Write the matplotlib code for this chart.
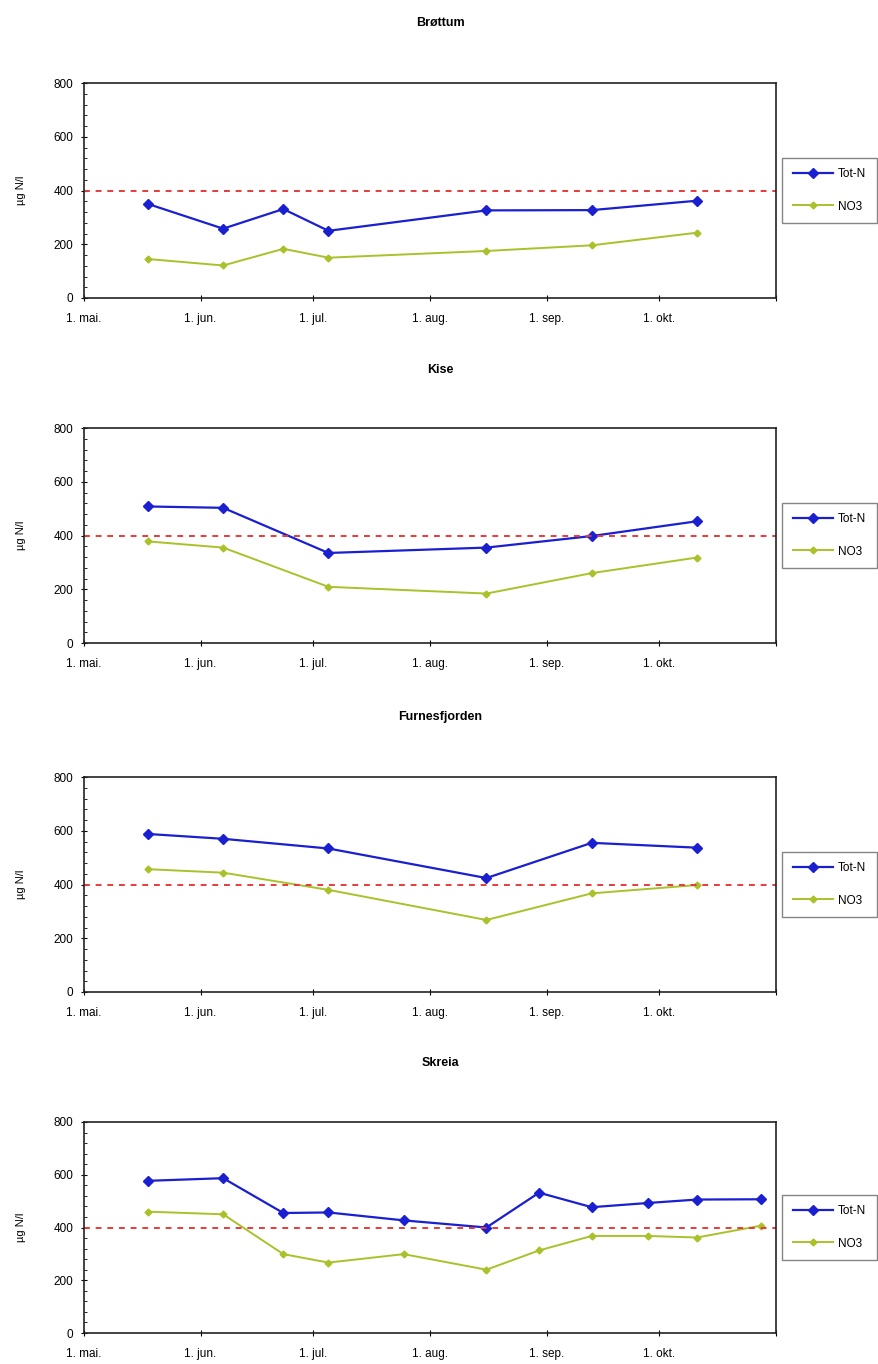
import datetime as dt
import matplotlib.pyplot as plt
from matplotlib.ticker import MultipleLocator

plt.rcParams['font.family'] = ['Liberation Sans', 'DejaVu Sans']

titles = ['Brøttum', 'Kise', 'Furnesfjorden', 'Skreia']

dates_6 = ['2000-05-18', '2000-06-07', '2000-07-05', '2000-08-16', '2000-09-13', '2000-10-11']
dates_brottum = ['2000-05-18', '2000-06-07', '2000-06-23', '2000-07-05', '2000-08-16', '2000-09-13', '2000-10-11']
dates_skreia = ['2000-05-18', '2000-06-07', '2000-06-23', '2000-07-05', '2000-07-25', '2000-08-16',
                '2000-08-30', '2000-09-13', '2000-09-28', '2000-10-11', '2000-10-28']

totn_brottum = [350, 258, 331, 250, 326, 327, 362]
no3_brottum = [145, 121, 183, 150, 175, 196, 243]

totn_kise = [508, 503, 335, 355, 398, 453]
no3_kise = [378, 355, 209, 184, 260, 318]

totn_furnes = [588, 570, 534, 424, 555, 537]
no3_furnes = [457, 444, 380, 268, 367, 398]

totn_skreia = [577, 587, 455, 457, 427, 400, 532, 477, 493, 506, 507]
no3_skreia = [460, 450, 299, 267, 299, 240, 313, 368, 368, 362, 407]

limit = 400

series = [
    (dates_brottum, totn_brottum, no3_brottum),
    (dates_6, totn_kise, no3_kise),
    (dates_6, totn_furnes, no3_furnes),
    (dates_skreia, totn_skreia, no3_skreia),
]

# pixel rows of each panel: title centre, plot top, plot bottom
rows = [(23, 83, 298), (370, 428, 643), (717, 777, 992), (1063, 1122, 1333)]
W, H = 879, 1364

fig = plt.figure(figsize=(W / 100, H / 100), dpi=100)

month_ticks = [dt.date(2000, m, 1) for m in range(5, 12)]
month_labels = ['1. mai.', '1. jun.', '1. jul.', '1. aug.', '1. sep.', '1. okt.', '']

for title, (dates, totn, no3), (ty, top, bot) in zip(titles, series, rows):
    ax = fig.add_axes([84 / W, 1 - bot / H, (776 - 84) / W, (bot - top) / H])
    x = [dt.datetime.strptime(d, '%Y-%m-%d') for d in dates]
    ax.plot(x, totn, color='#1a1fd0', marker='D', markersize=5, lw=1.6, label='Tot-N')
    ax.plot(x, no3, color='#aac12a', marker='D', markersize=3.5, lw=1.4, label='NO3')
    ax.axhline(limit, color='#e83a3a', ls=(0, (3, 3)), lw=1.4)

    ax.set_xlim(dt.date(2000, 5, 1), dt.date(2000, 11, 1))
    ax.set_ylim(0, 800)
    ax.set_xticks(month_ticks)
    ax.set_xticklabels(month_labels)
    ax.yaxis.set_major_locator(MultipleLocator(200))
    ax.yaxis.set_minor_locator(MultipleLocator(40))
    ax.tick_params(axis='both', labelsize=8.5, direction='inout', length=5, width=0.8)
    ax.tick_params(axis='x', pad=8)
    ax.tick_params(axis='y', pad=5)
    ax.tick_params(axis='y', which='minor', direction='in', length=2, width=0.6)
    ax.set_ylabel('µg N/l', fontsize=8, labelpad=20)
    for s in ax.spines.values():
        s.set_color('#222222')
        s.set_linewidth(1.2)
    fig.text(440 / W, 1 - ty / H, title, ha='center', va='center', fontsize=9, fontweight='bold')
    ax.legend(loc='center left', bbox_to_anchor=(1.009, 0.5), fontsize=8.5,
              frameon=True, fancybox=False, edgecolor='#666666', borderaxespad=0,
              handlelength=3.4, handletextpad=0.4, borderpad=0.9, labelspacing=1.7)

fig.savefig('out.png', dpi=100)
